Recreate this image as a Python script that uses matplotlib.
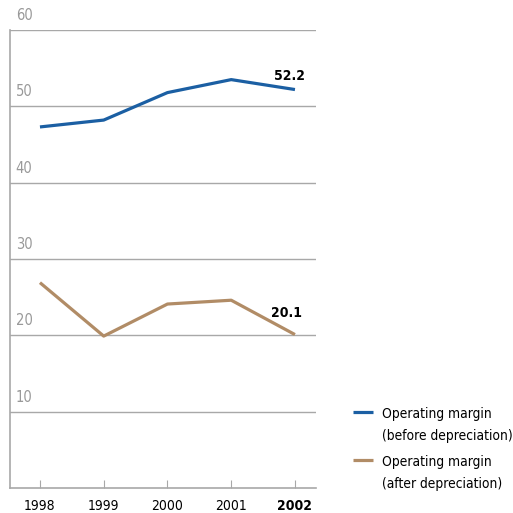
import matplotlib
matplotlib.use('Agg')
import matplotlib.pyplot as plt
from matplotlib.lines import Line2D

years = [1998, 1999, 2000, 2001, 2002]
before = [47.3, 48.2, 51.8, 53.5, 52.2]
after = [26.9, 19.9, 24.1, 24.6, 20.1]
yticks = [10, 20, 30, 40, 50, 60]
labels = ['Operating margin\n(before depreciation)', 'Operating margin\n(after depreciation)']

blue = '#1b5fa3'
brown = '#b18c66'
grey = '#a8a8a8'

plt.rcParams['font.family'] = ['DejaVu Sans']
plt.rcParams['font.stretch'] = 'condensed'

W = 513.0
fig = plt.figure(figsize=(5.13, 5.13), dpi=100)
ax = fig.add_axes([10/W, 25/W, 306/W, 458/W])

ax.plot(years, before, color=blue, lw=2.3, solid_capstyle='butt')
ax.plot(years, after, color=brown, lw=2.3, solid_capstyle='butt')

ax.set_xlim(1997.53, 2002.33)
ax.set_ylim(0, 60)

for v in yticks:
    ax.axhline(v, color=grey, lw=1, zorder=0)
    ax.text(1997.62, v + 0.9, str(v), color='#999999', fontsize=10.5, va='bottom', ha='left')

ax.text(2001.91, before[-1] + 0.8, '52.2', fontsize=10, fontweight='bold', ha='center', va='bottom')
ax.text(2001.86, after[-1] + 1.95, '20.1', fontsize=10, fontweight='bold', ha='center', va='bottom')

for s in ['top', 'right']:
    ax.spines[s].set_visible(False)
for s in ['left', 'bottom']:
    ax.spines[s].set_color(grey)
    ax.spines[s].set_linewidth(1.2)

ax.set_yticks([])
ax.set_xticks(years)
ax.set_xticklabels([str(y) for y in years], fontsize=10)
ax.get_xticklabels()[-1].set_fontweight('bold')
ax.tick_params(axis='x', direction='in', length=6, color=grey, pad=8)

# legend, handle beside first line of each label
for lab, col, yy in zip(labels, [blue, brown], [412, 460]):
    fig.add_artist(Line2D([353/W, 373/W], [1 - yy/W, 1 - yy/W], color=col, lw=2.3,
                          solid_capstyle='butt', transform=fig.transFigure))
    fig.text(382/W, 1 - (yy - 5)/W, lab, fontsize=9.9, va='top', ha='left', linespacing=1.7)

fig.savefig('out.png', dpi=100)
